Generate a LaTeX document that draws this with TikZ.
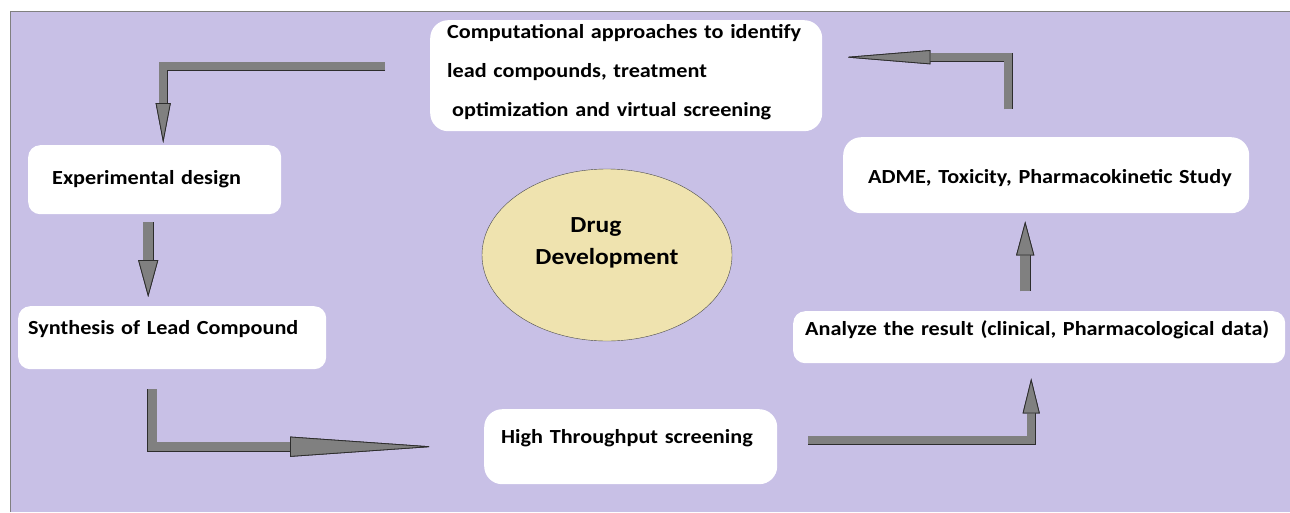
\documentclass[tikz,border=0pt]{standalone}
\usepackage{fontspec}
\setmainfont{Carlito}[FakeStretch=1.11]
\usetikzlibrary{arrows.meta,shapes.geometric}
\definecolor{lavender}{RGB}{200,192,230}
\definecolor{arrowgray}{RGB}{128,128,128}
\definecolor{arrowline}{RGB}{45,45,45}
\definecolor{drugfill}{RGB}{239,227,175}
\newcommand{\boxfont}{\fontsize{20}{24}\selectfont\bfseries}
\newcommand{\drugfont}{\fontsize{23}{27}\selectfont\bfseries}
\newcommand{\tipof}[2]{Triangle[length=#1pt,width=#2pt,line width=0.8pt,color=arrowline,fill=arrowgray]}

\begin{document}
\begin{tikzpicture}[x=1pt,y=-1pt,
    main node/.style={fill=white, anchor=north west, inner ysep=0pt, align=left,
      font=\boxfont, text height=14pt, text depth=4pt},
    round node/.style={main node, rounded corners=18pt},
    flat node/.style={main node, rounded corners=12pt},
    drug node/.style={ellipse, draw=black!70, fill=drugfill, minimum width=250pt,
      minimum height=172pt, align=left, font=\drugfont, text height=22pt, text depth=4pt,
      execute at begin node={\setlength{\baselineskip}{32pt}}},
    flow arrow/.style={draw=arrowgray, line width=#1, line join=miter,
      preaction={draw=arrowline, line width=#1+1.2pt}}]
  \useasboundingbox (0,0) rectangle (1290,512);
  \fill[lavender] (10,11) rectangle (1290,512);
  \draw[gray] (10,512) -- (10,11) -- (1290,11);

  \node[round node, inner xsep=17pt, text width=358pt, minimum height=111pt, text depth=89pt,
    execute at begin node={\setlength{\baselineskip}{39pt}}] (comp) at (430,20)
    {Computational approaches to identify\\lead compounds, treatment\\\hspace*{5pt}optimization and virtual screening};
  \node[flat node, inner xsep=24pt, text width=205pt, minimum height=69pt] (exp) at (28,145) {Experimental design};
  \node[flat node, inner xsep=10pt, text width=288pt, minimum height=63pt, text depth=20pt] (syn) at (18,306) {Synthesis of Lead Compound};
  \node[round node, inner xsep=17pt, text width=259pt, minimum height=75pt, text depth=21pt] (hts) at (484,409) {High Throughput screening};
  \node[flat node, inner xsep=12pt, text width=468pt, minimum height=52pt, text depth=18pt] (ana) at (793,311) {Analyze the result (clinical, Pharmacological data)};
  \node[round node, inner xsep=13pt, text width=380pt, minimum height=76pt, text height=20pt] (adme) at (843,137) {\hspace*{12pt}ADME, Toxicity, Pharmacokinetic Study};
  \node[drug node] (drug) at (607,255) {\hspace*{35pt}Drug\\Development};

  \draw[flow arrow=8pt, -{\tipof{40}{15}}] ([shift={(-45,-9.5)}]comp.west) -| ([shift={(8.5,-2)}]exp.north);
  \draw[flow arrow=10pt, -{\tipof{37}{20}}] ([shift={(-6.5,8)}]exp.south) -- ([shift={(-24,-9)}]syn.north);
  \draw[flow arrow=9pt, -{\tipof{145}{20}}] ([shift={(-20,20)}]syn.south) |- ([shift={(-49,0)}]hts.west);
  \draw[flow arrow=8pt, -{\tipof{35}{17}}] ([shift={(31,-6.5)}]hts.east) -| ([shift={(-8,15)}]ana.south);
  \draw[flow arrow=10pt, -{\tipof{34}{18}}] ([shift={(-14,-20)}]ana.north) -- ([shift={(-21,8)}]adme.south);
  \draw[flow arrow=8pt, -{\tipof{87}{14}}] ([shift={(-38,-28)}]adme.north) |- ([shift={(21,-18.5)}]comp.east);
\end{tikzpicture}
\end{document}
